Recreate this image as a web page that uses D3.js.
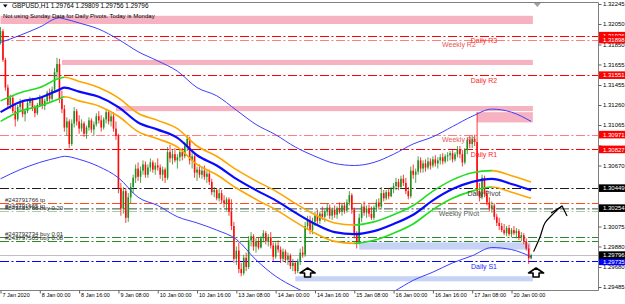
<!DOCTYPE html>
<html>
<head>
<meta charset="utf-8">
<script src="https://cdn.jsdelivr.net/npm/d3@7"></script>
<style>
  html, body { margin: 0; padding: 0; background: #fff; }
  svg { display: block; font-family: "Liberation Sans", Arial, sans-serif; }
</style>
</head>
<body>
<svg id="chart" width="625" height="304"></svg>
<script>
// price axis ticks and time axis labels
const tickPrices = [1.32245, 1.32050, 1.31850, 1.31655, 1.31455, 1.31260, 1.31065, 1.30865, 1.30670, 1.30470, 1.30275, 1.30075, 1.29880, 1.29680, 1.29485]
const timeLabels = ['7 Jan 2020', '8 Jan 00:00', '8 Jan 16:00', '9 Jan 08:00', '10 Jan 00:00', '10 Jan 16:00', '13 Jan 08:00', '14 Jan 00:00', '14 Jan 16:00', '15 Jan 08:00', '16 Jan 00:00', '16 Jan 16:00', '17 Jan 08:00', '20 Jan 00:00']
const timeTickBars = [0, 16, 32, 48, 64, 80, 96, 112, 128, 144, 160, 176, 192, 208]

// H1 candles, bar 0 = 7 Jan 08:00
const opens = [
  1.3188,1.3198,1.3170,1.3143,1.3126,1.3133,1.3120,1.3112,1.3124,1.3129,
  1.3117,1.3120,1.3128,1.3131,1.3123,1.3118,1.3126,1.3133,1.3125,1.3130,
  1.3138,1.3132,1.3141,1.3158,1.3166,1.3132,1.3122,1.3104,1.3110,1.3088,
  1.3108,1.3120,1.3110,1.3103,1.3108,1.3098,1.3104,1.3111,1.3102,1.3107,
  1.3115,1.3111,1.3104,1.3112,1.3119,1.3110,1.3115,1.3103,1.3096,1.3045,
  1.3025,1.3042,1.3016,1.3036,1.3046,1.3055,1.3064,1.3056,1.3062,1.3068,
  1.3058,1.3065,1.3070,1.3063,1.3067,1.3065,1.3058,1.3063,1.3055,1.3080,
  1.3074,1.3078,1.3072,1.3075,1.3080,1.3076,1.3086,1.3093,1.3072,1.3076,
  1.3060,1.3063,1.3058,1.3062,1.3056,1.3059,1.3051,1.3041,1.3043,1.3035,
  1.3040,1.3033,1.3030,1.3034,1.3022,1.3008,1.2976,1.2984,1.2966,1.2962,
  1.2977,1.2968,1.2994,1.2998,1.2988,1.2993,1.2987,1.2996,1.3001,1.2993,
  1.2997,1.2989,1.2978,1.2989,1.2985,1.2976,1.2983,1.2975,1.2979,1.2969,
  1.2972,1.2964,1.2974,1.2982,1.2980,1.3008,1.3014,1.3004,1.3012,1.3018,
  1.3013,1.3020,1.3017,1.3022,1.3026,1.3018,1.3024,1.3019,1.3025,1.3022,
  1.3028,1.3023,1.3031,1.3038,1.3024,1.3000,1.2992,1.3016,1.3027,1.3021,
  1.3025,1.3020,1.3016,1.3026,1.3031,1.3027,1.3040,1.3035,1.3041,1.3037,
  1.3044,1.3047,1.3051,1.3046,1.3054,1.3050,1.3042,1.3037,1.3062,1.3058,
  1.3061,1.3072,1.3064,1.3069,1.3065,1.3071,1.3067,1.3073,1.3069,1.3072,
  1.3075,1.3071,1.3076,1.3077,1.3079,1.3073,1.3078,1.3083,1.3078,1.3070,
  1.3082,1.3092,1.3088,1.3093,1.3090,1.3042,1.3036,1.3055,1.3039,1.3031,
  1.3025,1.3028,1.3017,1.3011,1.3008,1.3004,1.3001,1.3006,1.3000,1.3004,
  1.3001,1.3003,1.2997,1.2999,1.2993,1.2986,1.29764]
const highs = [
  1.3202,1.3200,1.3172,1.3146,1.3136,1.3135,1.3128,1.3126,1.3132,1.3131,
  1.3122,1.3130,1.3134,1.3133,1.3126,1.3128,1.3136,1.3135,1.3132,1.3140,
  1.3142,1.3144,1.3162,1.3172,1.3171,1.3140,1.3126,1.3114,1.3112,1.3112,
  1.3124,1.3122,1.3116,1.3112,1.3110,1.3106,1.3114,1.3113,1.3110,1.3118,
  1.3120,1.3116,1.3114,1.3122,1.3121,1.3118,1.3119,1.3110,1.3098,1.3050,
  1.3046,1.3045,1.3040,1.3050,1.3058,1.3068,1.3070,1.3066,1.3072,1.3071,
  1.3068,1.3074,1.3072,1.3070,1.3074,1.3068,1.3066,1.3065,1.3085,1.3087,
  1.3082,1.3084,1.3078,1.3083,1.3084,1.3090,1.3097,1.3095,1.3080,1.3078,
  1.3066,1.3068,1.3066,1.3067,1.3062,1.3063,1.3054,1.3046,1.3045,1.3044,
  1.3043,1.3038,1.3036,1.3036,1.3034,1.3012,1.2988,1.2992,1.2972,1.2980,
  1.2982,1.2998,1.3002,1.3000,1.2996,1.2997,1.2998,1.3004,1.3003,1.3000,
  1.3002,1.2992,1.2992,1.2994,1.2988,1.2986,1.2985,1.2982,1.2981,1.2976,
  1.2974,1.2976,1.2986,1.2988,1.3012,1.3018,1.3018,1.3016,1.3022,1.3024,
  1.3022,1.3027,1.3024,1.3030,1.3029,1.3026,1.3028,1.3027,1.3031,1.3030,
  1.3031,1.3034,1.3042,1.3040,1.3026,1.3003,1.3020,1.3030,1.3032,1.3028,
  1.3029,1.3027,1.3028,1.3034,1.3035,1.3046,1.3043,1.3043,1.3045,1.3046,
  1.3050,1.3055,1.3054,1.3057,1.3058,1.3055,1.3046,1.3066,1.3068,1.3064,
  1.3076,1.3075,1.3072,1.3073,1.3075,1.3074,1.3076,1.3077,1.3075,1.3078,
  1.3079,1.3078,1.3080,1.3081,1.3082,1.3080,1.3086,1.3086,1.3082,1.3084,
  1.3094,1.3096,1.3096,1.3097,1.3119,1.3050,1.3058,1.3057,1.3043,1.3036,
  1.3032,1.3030,1.3020,1.3016,1.3011,1.3010,1.3008,1.3009,1.3006,1.3008,
  1.3006,1.3005,1.3002,1.3001,1.2996,1.2990,1.29809]
const lows = [
  1.3185,1.3168,1.3140,1.3122,1.3122,1.3118,1.3105,1.3110,1.3120,1.3114,
  1.3110,1.3118,1.3125,1.3120,1.3114,1.3116,1.3124,1.3122,1.3121,1.3128,
  1.3129,1.3130,1.3138,1.3152,1.3128,1.3118,1.3100,1.3096,1.3084,1.3086,
  1.3104,1.3106,1.3098,1.3100,1.3095,1.3093,1.3101,1.3099,1.3096,1.3105,
  1.3108,1.3100,1.3102,1.3108,1.3107,1.3105,1.3100,1.3092,1.3040,1.3018,
  1.3020,1.3011,1.3012,1.3030,1.3040,1.3050,1.3052,1.3050,1.3058,1.3055,
  1.3055,1.3061,1.3060,1.3058,1.3062,1.3054,1.3052,1.3050,1.3053,1.3070,
  1.3068,1.3070,1.3064,1.3071,1.3072,1.3074,1.3081,1.3068,1.3064,1.3055,
  1.3052,1.3055,1.3054,1.3053,1.3050,1.3048,1.3038,1.3036,1.3033,1.3032,
  1.3030,1.3026,1.3023,1.3018,1.3004,1.2972,1.2970,1.2962,1.2959,1.2960,
  1.2964,1.2966,1.2988,1.2984,1.2982,1.2985,1.2986,1.2992,1.2990,1.2988,
  1.2986,1.2974,1.2976,1.2982,1.2972,1.2973,1.2972,1.2970,1.2966,1.2964,
  1.2961,1.2962,1.2970,1.2977,1.2978,1.3004,1.3000,1.3000,1.3008,1.3010,
  1.3010,1.3014,1.3012,1.3018,1.3015,1.3014,1.3016,1.3015,1.3020,1.3018,
  1.3020,1.3021,1.3028,1.3020,1.2996,1.2986,1.2990,1.3012,1.3018,1.3016,
  1.3017,1.3014,1.3014,1.3022,1.3024,1.3025,1.3032,1.3033,1.3034,1.3036,
  1.3040,1.3043,1.3043,1.3044,1.3047,1.3039,1.3034,1.3035,1.3054,1.3050,
  1.3058,1.3060,1.3060,1.3061,1.3063,1.3063,1.3065,1.3066,1.3064,1.3068,
  1.3068,1.3069,1.3071,1.3072,1.3070,1.3071,1.3075,1.3074,1.3066,1.3068,
  1.3078,1.3084,1.3084,1.3086,1.3038,1.3032,1.3034,1.3036,1.3028,1.3022,
  1.3021,1.3014,1.3008,1.3004,1.3002,1.2999,1.2998,1.2998,1.2997,1.2999,
  1.2996,1.2994,1.2993,1.2990,1.2984,1.2971,1.29756]
const closes = [
  1.3198,1.3170,1.3143,1.3126,1.3133,1.3120,1.3112,1.3124,1.3129,1.3117,
  1.3120,1.3128,1.3131,1.3123,1.3118,1.3126,1.3133,1.3125,1.3130,1.3138,
  1.3132,1.3141,1.3158,1.3166,1.3132,1.3122,1.3104,1.3110,1.3088,1.3108,
  1.3120,1.3110,1.3103,1.3108,1.3098,1.3104,1.3111,1.3102,1.3107,1.3115,
  1.3111,1.3104,1.3112,1.3119,1.3110,1.3115,1.3103,1.3096,1.3045,1.3025,
  1.3042,1.3016,1.3036,1.3046,1.3055,1.3064,1.3056,1.3062,1.3068,1.3058,
  1.3065,1.3070,1.3063,1.3067,1.3065,1.3058,1.3063,1.3055,1.3080,1.3074,
  1.3078,1.3072,1.3075,1.3080,1.3076,1.3086,1.3093,1.3072,1.3076,1.3060,
  1.3063,1.3058,1.3062,1.3056,1.3059,1.3051,1.3041,1.3043,1.3035,1.3040,
  1.3033,1.3030,1.3034,1.3022,1.3008,1.2976,1.2984,1.2966,1.2962,1.2977,
  1.2968,1.2994,1.2998,1.2988,1.2993,1.2987,1.2996,1.3001,1.2993,1.2997,
  1.2989,1.2978,1.2989,1.2985,1.2976,1.2983,1.2975,1.2979,1.2969,1.2972,
  1.2964,1.2974,1.2982,1.2980,1.3008,1.3014,1.3004,1.3012,1.3018,1.3013,
  1.3020,1.3017,1.3022,1.3026,1.3018,1.3024,1.3019,1.3025,1.3022,1.3028,
  1.3023,1.3031,1.3038,1.3024,1.3000,1.2992,1.3016,1.3027,1.3021,1.3025,
  1.3020,1.3016,1.3026,1.3031,1.3027,1.3040,1.3035,1.3041,1.3037,1.3044,
  1.3047,1.3051,1.3046,1.3054,1.3050,1.3042,1.3037,1.3062,1.3058,1.3061,
  1.3072,1.3064,1.3069,1.3065,1.3071,1.3067,1.3073,1.3069,1.3072,1.3075,
  1.3071,1.3076,1.3077,1.3079,1.3073,1.3078,1.3083,1.3078,1.3070,1.3082,
  1.3092,1.3088,1.3093,1.3090,1.3042,1.3036,1.3055,1.3039,1.3031,1.3025,
  1.3028,1.3017,1.3011,1.3008,1.3004,1.3001,1.3006,1.3000,1.3004,1.3001,
  1.3003,1.2997,1.2999,1.2993,1.2986,1.29764,1.29796]

// channel indicator (at these bars)
const bandBars = [0, 8, 16, 24, 26, 32, 40, 48, 56, 64, 72, 80, 88, 96, 104, 112, 120, 128, 136, 144, 152, 160, 168, 176, 184, 192, 200, 208, 216]
const bandMid = [1.3119,1.3129,1.3133,1.3141,1.3143,1.3139,1.3134,1.3124,1.3109,1.3102,1.3094,1.3077,1.3067,1.3054,1.3043,1.3033,1.3021,1.3010,1.3002,1.3000,1.3003,1.3010,1.3019,1.3033,1.3044,1.3051,1.3054,1.3049,1.3043]
const bandUpper = [1.3130,1.3138,1.3143,1.3152,1.3153,1.3149,1.3143,1.3133,1.3118,1.3111,1.3103,1.3086,1.3076,1.3063,1.3052,1.3042,1.3030,1.3019,1.3011,1.3009,1.3012,1.3019,1.3028,1.3042,1.3053,1.3060,1.3062,1.3057,1.3051]
const bandLower = [1.3110,1.3120,1.3125,1.3132,1.3134,1.3130,1.3125,1.3115,1.3100,1.3093,1.3085,1.3068,1.3058,1.3045,1.3034,1.3024,1.3012,1.3001,1.2993,1.2991,1.2994,1.3001,1.3010,1.3024,1.3035,1.3042,1.3046,1.3041,1.3035]
// slope between neighbouring samples: up = green, down = orange
const bandTrend = ['up','up','up','up','down','down','down','down','down','down','down','down','down','down','down','down','down','down','down','up','up','up','up','up','up','up','down','down']

// wide envelope (thin blue)
const envUpper = [1.3187,1.3194,1.3202,1.3211,1.3210,1.3206,1.3200,1.3190,1.3178,1.3169,1.3159,1.3143,1.3135,1.3121,1.3107,1.3097,1.3085,1.3076,1.3069,1.3067,1.3070,1.3078,1.3088,1.3095,1.3105,1.3115,1.3122,1.3119,1.3110]
const envLower = [1.3054,1.3063,1.3070,1.3075,1.3076,1.3073,1.3066,1.3055,1.3036,1.3028,1.3017,1.3011,1.3004,1.2995,1.2975,1.2959,1.2948,1.2939,1.2934,1.2931,1.2934,1.2944,1.2955,1.2963,1.2972,1.2979,1.2987,1.2985,1.2978]

// supply / demand boxes
const zoneFrom = [0, 25, 47, 194, 146, 120]
const zoneTo = [216, 216, 216, 216, 215, 216]
const zoneHigh = [1.3213, 1.3170, 1.3125, 1.3119, 1.2992, 1.2959]
const zoneLow = [1.3205, 1.3165, 1.3120, 1.3109, 1.2985, 1.2954]
const zoneKind = ['supply', 'supply', 'supply', 'supply', 'demand', 'demand']

// pivot levels
const levelNames = ['Daily R3', 'Weekly R2', 'Daily R2', 'Weekly R1', 'Daily R1', 'Daily Pivot', 'Weekly Pivot', 'Daily S1']
const levelPrices = [1.31936, 1.31898, 1.31551, 1.30971, 1.30827, 1.30449, 1.30254, 1.29735]

// open orders
const orderNames = ['#243791766 tp', '#243791665 tp', '#243791766 buy 0.20', '#243792734 buy 0.01', '#243797505 buy 0.08']
const orderPrices = [1.30304, 1.30244, 1.30222, 1.29973, 1.29934]

// hand drawn arrow and arrow objects
const drawnBars = [217, 219.6, 221.6, 224.5, 226.5, 228.6]
const drawnPrices = [1.29830, 1.29973, 1.30109, 1.30187, 1.30236, 1.30275]
const headBars = [224.1, 228.6, 230.6]
const headPrices = [1.30207, 1.30275, 1.30177]
const markBars = [125, 218]
const markPrices = [1.29670, 1.29670]

// ---------- drawing ----------
const svg = d3.select('#chart')
const plot = { left: 0, right: 598, top: 2, bottom: 290 }
const bull = '#1f8f1f', bear = '#ff0a0a'
const dashDot = '9,2.5,2,2.5'

const x = d3.scaleLinear().domain([0, 208]).range([0.5, 511.5])
const y = d3.scaleLinear().domain([1.29485, 1.32245]).range([287, 4])

const defs = svg.append('defs')
defs.append('clipPath').attr('id', 'clip')
  .append('rect').attr('x', plot.left).attr('y', plot.top)
  .attr('width', plot.right - plot.left).attr('height', plot.bottom - plot.top)

// clip regions for the two band colours
const upClip = defs.append('clipPath').attr('id', 'clipUp')
const downClip = defs.append('clipPath').attr('id', 'clipDown')
bandTrend.forEach((t, k) => {
  const c = t === 'up' ? upClip : downClip
  c.append('rect').attr('x', x(bandBars[k]) - 0.3).attr('y', plot.top)
    .attr('width', x(bandBars[k + 1]) - x(bandBars[k]) + 0.6).attr('height', plot.bottom - plot.top)
})

const chart = svg.append('g').attr('clip-path', 'url(#clip)')

// zones
chart.selectAll('rect.zone')
  .data(zoneFrom.map((f, i) => i))
  .join('rect')
  .attr('class', 'zone')
  .attr('x', i => x(zoneFrom[i]))
  .attr('width', i => x(zoneTo[i] + 0.7) - x(zoneFrom[i]))
  .attr('y', i => y(zoneHigh[i]))
  .attr('height', i => y(zoneLow[i]) - y(zoneHigh[i]))
  .attr('fill', i => zoneKind[i] === 'supply' ? '#f6b2c0' : '#c7d3f5')

// level styles
function levelLook(name) {
  if (name === 'Daily Pivot') return { line: '#1a1a1a', text: '#3a3a3a', box: '#000000' }
  if (name === 'Weekly Pivot') return { line: '#8a8a8a', text: '#5a5a5a', box: '#000000' }
  if (name === 'Daily S1') return { line: '#0000ff', text: '#2424ff', box: '#0000ff' }
  if (name.startsWith('Weekly')) return { line: '#ff7d7d', text: '#e85656', box: '#ff0000' }
  return { line: '#ff0000', text: '#ff1c1c', box: '#ff0000' }
}
const orderColors = ['#ff4a1a', '#b8b8b8', '#9fd49f', '#2a8a2a', '#2a8a2a']

// order lines
chart.selectAll('line.order')
  .data(orderPrices)
  .join('line')
  .attr('x1', plot.left).attr('x2', plot.right)
  .attr('y1', d => Math.round(y(d)) + 0.5).attr('y2', d => Math.round(y(d)) + 0.5)
  .attr('stroke', (d, i) => orderColors[i])
  .attr('stroke-dasharray', dashDot)

// pivot lines
chart.selectAll('line.level')
  .data(levelPrices)
  .join('line')
  .attr('x1', plot.left).attr('x2', plot.right)
  .attr('y1', d => Math.round(y(d)) + 0.5).attr('y2', d => Math.round(y(d)) + 0.5)
  .attr('stroke', (d, i) => levelLook(levelNames[i]).line)
  .attr('stroke-dasharray', dashDot)

// bid line
const lastPrice = closes[closes.length - 1]
chart.append('line')
  .attr('x1', plot.left).attr('x2', plot.right)
  .attr('y1', Math.round(y(lastPrice)) + 0.5).attr('y2', Math.round(y(lastPrice)) + 0.5)
  .attr('stroke', '#c0c0c0')

// candles
const bars = d3.range(closes.length)
chart.selectAll('line.wick')
  .data(bars)
  .join('line')
  .attr('x1', i => x(i)).attr('x2', i => x(i))
  .attr('y1', i => y(highs[i])).attr('y2', i => y(lows[i]))
  .attr('stroke', i => closes[i] >= opens[i] ? bull : bear)
  .attr('stroke-width', 0.8)
chart.selectAll('rect.body')
  .data(bars)
  .join('rect')
  .attr('x', i => x(i) - 0.8)
  .attr('width', 1.6)
  .attr('y', i => y(Math.max(opens[i], closes[i])))
  .attr('height', i => Math.max(0.8, Math.abs(y(opens[i]) - y(closes[i]))))
  .attr('fill', i => closes[i] >= opens[i] ? bull : bear)

// envelope
const curve = d3.curveMonotoneX
const envLine = arr => d3.line().curve(curve).x((d, k) => x(bandBars[k])).y(d => y(d))(arr)
chart.append('path').attr('d', envLine(envUpper)).attr('fill', 'none').attr('stroke', '#3d3dff').attr('stroke-width', 1)
chart.append('path').attr('d', envLine(envLower)).attr('fill', 'none').attr('stroke', '#3d3dff').attr('stroke-width', 1)

// channel bands, coloured by slope
;[bandUpper, bandLower].forEach(arr => {
  chart.append('path').attr('d', envLine(arr)).attr('fill', 'none')
    .attr('stroke', '#22dd22').attr('stroke-width', 1.6).attr('clip-path', 'url(#clipUp)')
  chart.append('path').attr('d', envLine(arr)).attr('fill', 'none')
    .attr('stroke', '#ffa500').attr('stroke-width', 1.6).attr('clip-path', 'url(#clipDown)')
})
chart.append('path').attr('d', envLine(bandMid)).attr('fill', 'none').attr('stroke', '#0a0aff').attr('stroke-width', 2.2)

// pivot labels
const labels = svg.append('g').attr('font-size', 7).attr('text-anchor', 'middle')
labels.selectAll('text')
  .data(levelPrices)
  .join('text')
  .attr('x', (d, i) => levelNames[i].startsWith('Daily') ? x(196.8) : x(186.6))
  .attr('y', d => y(d) + 7.5)
  .attr('fill', (d, i) => levelLook(levelNames[i]).text)
  .text((d, i) => levelNames[i])

// order labels
svg.append('g').attr('font-size', 6).attr('fill', '#2a2a2a')
  .selectAll('text')
  .data(orderPrices)
  .join('text')
  .attr('x', 5)
  .attr('y', d => y(d) - 1.3)
  .text((d, i) => orderNames[i])

// hand drawn arrow
const penLine = d3.line().curve(d3.curveCatmullRom).x(d => x(d[0])).y(d => y(d[1]))
svg.append('path')
  .attr('d', penLine(drawnBars.map((b, i) => [b, drawnPrices[i]])))
  .attr('fill', 'none').attr('stroke', '#000').attr('stroke-width', 1.2)
svg.append('path')
  .attr('d', d3.line().x(d => x(d[0])).y(d => y(d[1]))(headBars.map((b, i) => [b, headPrices[i]])))
  .attr('fill', 'none').attr('stroke', '#000').attr('stroke-width', 1.2)

// up-arrow objects
svg.selectAll('path.mark')
  .data(markBars)
  .join('path')
  .attr('transform', (d, i) => `translate(${x(d)},${y(markPrices[i])})`)
  .attr('d', 'M0,0 L7.5,5 L3,5 L3,9 L-3,9 L-3,5 L-7.5,5 Z')
  .attr('fill', '#fff').attr('stroke', '#000').attr('stroke-width', 1.6).attr('stroke-linejoin', 'round')

// frame
svg.append('path')
  .attr('d', `M${plot.left},${plot.top + 0.5} H${plot.right + 0.5} V${plot.bottom + 0.5} H${plot.left}`)
  .attr('fill', 'none').attr('stroke', '#808080')

// shift marker
svg.append('path')
  .attr('d', `M${x(218.5) - 3.5},3 h7 l-3.5,4 z`)
  .attr('fill', '#a0a0a0')

// price boxes on the axis
const boxPrices = levelPrices.concat([lastPrice])
const boxColors = levelNames.map(n => levelLook(n).box).concat(['#000000'])

// right axis; a tick label sitting right under a price box is covered by it, as in MT4
const covered = p => boxPrices.some(b => Math.abs(y(b) - y(p)) < 4)
const yAxis = d3.axisRight(y).tickValues(tickPrices).tickSize(3)
  .tickFormat(p => covered(p) ? '' : d3.format('.5f')(p))
svg.append('g')
  .attr('transform', `translate(${plot.right + 0.5},0)`)
  .call(yAxis)
  .call(g => g.select('.domain').remove())
  .call(g => g.selectAll('line').attr('stroke', '#606060'))
  .call(g => g.selectAll('text').attr('x', 4.5).attr('font-size', 6).attr('font-family', '"Liberation Sans", Arial, sans-serif').attr('fill', '#000'))

const boxes = svg.append('g')
boxPrices.forEach((p, i) => {
  const cy = y(p)
  boxes.append('rect').attr('x', 599).attr('y', cy - 3.8).attr('width', 26).attr('height', 7.6).attr('fill', boxColors[i])
  boxes.append('text').attr('x', 603).attr('y', cy + 2.2).attr('font-size', 6).attr('fill', '#fff').text(d3.format('.5f')(p))
})

// time axis
const xAxis = d3.axisBottom(x).tickValues(timeTickBars).tickSize(3).tickFormat((d, i) => timeLabels[i])
svg.append('g')
  .attr('transform', `translate(0,${plot.bottom + 0.5})`)
  .call(xAxis)
  .call(g => g.select('.domain').remove())
  .call(g => g.selectAll('line').attr('stroke', '#606060'))
  .call(g => g.selectAll('text').attr('text-anchor', 'start').attr('x', 1.5).attr('y', 3)
    .attr('font-size', 5.5).attr('font-family', '"Liberation Sans", Arial, sans-serif').attr('fill', '#000'))

// title
const last = closes.length - 1
const f5 = d3.format('.5f')
svg.append('path').attr('d', 'M3,4.5 h4.5 l-2.25,3 z').attr('fill', '#000')
svg.append('text').attr('x', 12).attr('y', 8.3).attr('font-size', 6.4).attr('fill', '#000')
  .text(`GBPUSD,H1  ${f5(opens[last])} ${f5(highs[last])} ${f5(lows[last])} ${f5(closes[last])}`)
svg.append('text').attr('x', 3).attr('y', 17.5).attr('font-size', 6).attr('fill', '#000')
  .text('Not using Sunday Data for Daily Pivots.  Today is Monday')
</script>
</body>
</html>
